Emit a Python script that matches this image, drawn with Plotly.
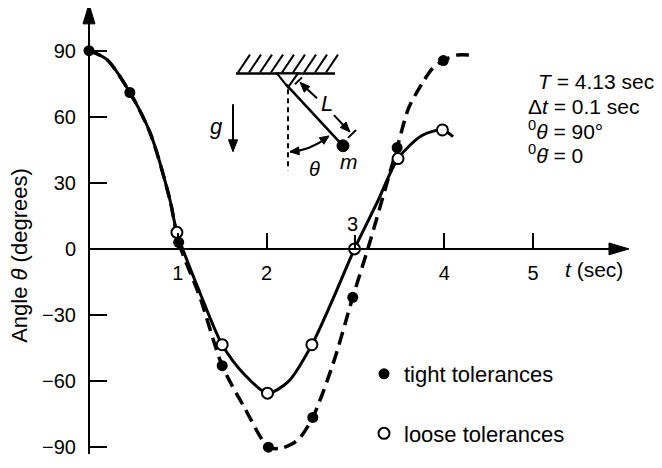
import plotly.graph_objects as go

# values (time in sec, angle in degrees)
t_tight_curve = [0, 0.2, 0.46, 0.69, 0.91, 1.01, 1.25, 1.5, 1.75, 2.02, 2.16, 2.29, 2.38, 2.52,
                 2.75, 2.97, 3.14, 3.47, 3.6, 3.75, 3.87, 3.99, 4.15, 4.29]
theta_tight_curve = [90, 86, 71, 52.5, 22.5, 3, -22, -53, -72, -90, -90.5, -88.5, -85.5, -76.5,
                     -52, -22, 0, 46, 64, 75, 82, 85.5, 88, 88]

t_loose_curve = [0, 0.2, 0.46, 0.69, 0.91, 0.99, 1.25, 1.5, 1.75, 2.01, 2.25, 2.51, 2.75, 2.99,
                 3.25, 3.48, 3.75, 3.98, 4.1]
theta_loose_curve = [90, 86, 71, 52.5, 22.5, 7.5, -20, -43.5, -57, -65.5, -60, -43.5, -22.5, 0,
                     21.5, 41, 51.5, 54, 51]

t_tight_pts = [0, 0.46, 1.01, 1.5, 2.02, 2.52, 2.97, 3.47, 3.99]
theta_tight_pts = [90, 71, 3, -53, -90, -76.5, -22, 46, 85.5]

t_loose_pts = [0.99, 1.5, 2.01, 2.51, 2.99, 3.48, 3.98]
theta_loose_pts = [7.5, -43.5, -65.5, -43.5, 0, 41, 54]

x_ticks = [1, 2, 4, 5]
y_ticks = [-90, -60, -30, 0, 30, 60, 90]

# the page puts the figure 8px in from the top left corner
OFF = 8
W, H = 662 - OFF, 468 - OFF
X0, XS = 89, 88.8      # screen pixel of t=0, pixels per second
Y0, YS = 251, 2.222    # screen pixel of theta=0, pixels per degree
FONT = "Liberation Sans, Arial, sans-serif"


def px(x):
    return (x - OFF) / W


def py(y):
    return 1 - (y - OFF) / H


fig = go.Figure()

fig.add_trace(go.Scatter(x=t_loose_curve, y=theta_loose_curve, mode="lines",
                         line=dict(color="black", width=3, shape="spline", smoothing=0.8),
                         showlegend=False, hoverinfo="skip", cliponaxis=False))
fig.add_trace(go.Scatter(x=t_tight_curve, y=theta_tight_curve, mode="lines",
                         line=dict(color="black", width=3.5, dash="13px,7px", shape="spline", smoothing=0.8),
                         showlegend=False, hoverinfo="skip", cliponaxis=False))
fig.add_trace(go.Scatter(x=t_tight_pts, y=theta_tight_pts, mode="markers", name="tight tolerances",
                         marker=dict(color="black", size=11, symbol="circle"),
                         legendgroup="a", cliponaxis=False))
fig.add_trace(go.Scatter(x=t_loose_pts, y=theta_loose_pts, mode="markers", name="loose tolerances",
                         marker=dict(color="white", size=11, symbol="circle",
                                     line=dict(color="black", width=2)),
                         legendgroup="b", cliponaxis=False))

shapes = []


def seg(x0, y0, x1, y1, width=2, dash=None):
    ln = dict(color="black", width=width)
    if dash:
        ln["dash"] = dash
    shapes.append(dict(type="line", xref="paper", yref="paper",
                       x0=px(x0), y0=py(y0), x1=px(x1), y1=py(y1), line=ln))


def head(tx, ty, dx, dy, length=10, half=4):
    # filled arrowhead with its tip at (tx, ty), pointing along (dx, dy) in screen pixels
    n = (dx * dx + dy * dy) ** 0.5
    ux, uy = dx / n, dy / n
    bx, by = tx - ux * length, ty - uy * length
    p1 = (bx - uy * half, by + ux * half)
    p2 = (bx + uy * half, by - ux * half)
    shapes.append(dict(type="path", xref="paper", yref="paper",
                       path="M %f,%f L %f,%f L %f,%f Z" % (px(tx), py(ty), px(p1[0]), py(p1[1]),
                                                          px(p2[0]), py(p2[1])),
                       fillcolor="black", line=dict(color="black", width=1)))


# axis arrowheads and the small tick at t = 3
head(629, Y0, 1, 0, length=20, half=6)
head(X0, 4, 0, -1, length=20, half=6)
seg(355, Y0, 355, Y0 - 14, width=2)

# pendulum sketch
seg(236, 74, 335, 74, width=2.5)
for hx in range(238, 330, 11):
    seg(hx, 73, hx + 12, 55, width=2)
shapes.append(dict(type="path", xref="paper", yref="paper",
                   path="M %f,%f L %f,%f L %f,%f Z" % (px(277), py(74), px(298), py(74), px(288), py(88)),
                   fillcolor="white", line=dict(color="black", width=2)))
seg(286, 85, 343, 147, width=2.5)
seg(288, 90, 288, 172, width=2, dash="5px,4px")
shapes.append(dict(type="circle", xref="paper", yref="paper", x0=px(337), y0=py(153), x1=px(349), y1=py(141),
                   fillcolor="black", line=dict(color="black", width=1)))
shapes.append(dict(type="path", xref="paper", yref="paper",
                   path="M %f,%f Q %f,%f %f,%f" % (px(290), py(153), px(310), py(152), px(328), py(138)),
                   line=dict(color="black", width=2)))
head(290, 153, -1, 0.1, length=9, half=4)
head(329, 137, 1, -0.7, length=9, half=4)
# L dimension
seg(317, 99, 303, 86, width=2)
head(300, 83, -1, -1, length=10, half=4)
seg(334, 116, 346, 129, width=2)
head(350, 133, 1, 1.05, length=10, half=4)
seg(295, 85, 302, 78, width=2)
seg(348, 139, 356, 131, width=2)
# g arrow
seg(233, 105, 233, 142, width=2)
head(233, 153, 0, 1, length=12, half=4.5)

annotations = []


def label(x, y, text, size=21, angle=0, xanchor="center"):
    annotations.append(dict(xref="paper", yref="paper", x=px(x), y=py(y), text=text, showarrow=False,
                            textangle=angle, xanchor=xanchor, yanchor="middle",
                            font=dict(family=FONT, size=size, color="black")))


label(216, 128, "<i>g</i>", size=22)
label(327, 104, "<i>L</i>", size=22)
label(314, 170, "<i>θ</i>", size=20)
label(349, 163, "<i>m</i>", size=21)

label(536, 82, "<i>T</i> = 4.13 sec", xanchor="left")
label(526, 107, "Δ<i>t</i> = 0.1 sec", xanchor="left")
label(526, 131, "<sup>0</sup><i>θ</i> = 90°", xanchor="left")
label(526, 155, "<sup>0</sup><i>θ̇</i> = 0", xanchor="left")

label(353, 226, "3", size=20)
label(563, 272, "<i>t</i> (sec)", xanchor="left")
label(20, 258, "Angle <i>θ</i> (degrees)", size=22, angle=-90)

fig.update_layout(
    width=W, height=H,
    margin=dict(l=0, r=0, t=0, b=0),
    paper_bgcolor="white", plot_bgcolor="white",
    font=dict(family=FONT, size=20, color="black"),
    xaxis=dict(domain=[px(X0), px(620)], range=[0, (620 - X0) / XS], anchor="free", position=py(Y0),
               showline=True, linecolor="black", linewidth=2, ticks="inside", ticklen=15, tickwidth=2,
               tickcolor="black", tickvals=x_ticks, ticklabelstandoff=6,
               showgrid=False, zeroline=False, tickfont=dict(size=20)),
    yaxis=dict(domain=[py(458), py(12)], range=[(Y0 - 458) / YS, (Y0 - 12) / YS], anchor="free",
               position=px(X0),
               showline=True, linecolor="black", linewidth=2, ticks="inside", ticklen=17, tickwidth=2,
               tickcolor="black", tickvals=y_ticks, ticklabelstandoff=8,
               showgrid=False, zeroline=False, tickfont=dict(size=20)),
    legend=dict(x=px(364), y=py(356), xanchor="left", yanchor="top", bgcolor="rgba(0,0,0,0)",
                font=dict(family=FONT, size=22), traceorder="grouped", tracegroupgap=28, itemwidth=30),
    shapes=shapes,
    annotations=annotations,
)

fig.write_html("out.html")
